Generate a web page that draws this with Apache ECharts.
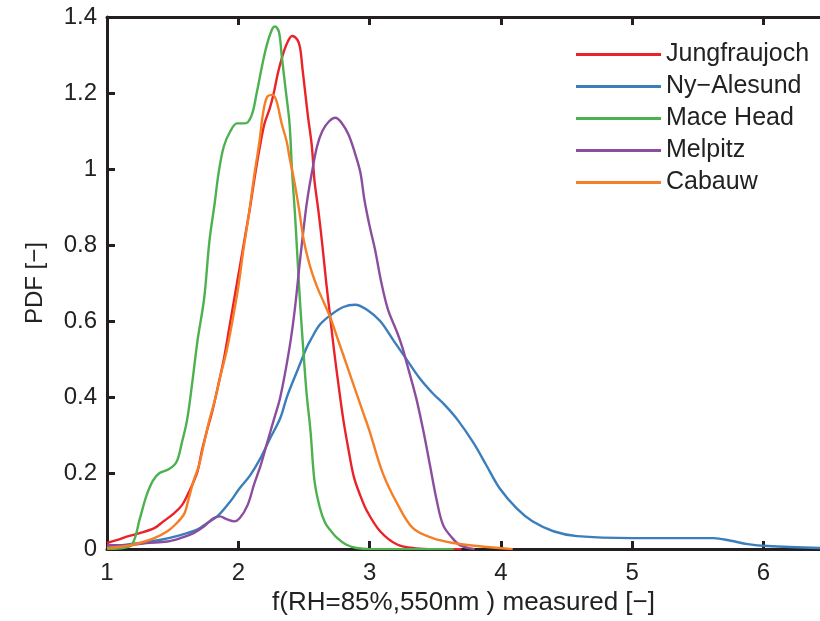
<!DOCTYPE html>
<html>
<head>
<meta charset="utf-8">
<script src="https://cdn.jsdelivr.net/npm/echarts@6/dist/echarts.min.js"></script>
<style>
  html, body { margin: 0; padding: 0; background: #ffffff; }
  #chart { width: 820px; height: 621px; }
</style>
</head>
<body>
<div id="chart"></div>
<script>
// ---- data ----
const seriesNames = ['Jungfraujoch', 'Ny\u2212Alesund', 'Mace Head', 'Melpitz', 'Cabauw'];
const xTicks = [1, 2, 3, 4, 5, 6];
const yTicks = [0, 0.2, 0.4, 0.6, 0.8, 1, 1.2, 1.4];

const jungfraujoch = [[1.0,0.016],[1.08,0.024],[1.15,0.033],[1.25,0.042],[1.36,0.055],[1.43,0.073],[1.51,0.094],[1.57,0.115],[1.61,0.14],[1.65,0.17],[1.69,0.205],[1.72,0.255],[1.76,0.31],[1.80,0.36],[1.84,0.42],[1.89,0.50],[1.93,0.58],[1.97,0.66],[2.01,0.74],[2.05,0.82],[2.09,0.90],[2.13,0.99],[2.17,1.07],[2.20,1.12],[2.24,1.16],[2.27,1.20],[2.30,1.25],[2.33,1.29],[2.37,1.33],[2.41,1.35],[2.45,1.34],[2.47,1.32],[2.49,1.26],[2.51,1.20],[2.53,1.14],[2.56,1.06],[2.58,0.97],[2.61,0.89],[2.64,0.80],[2.67,0.70],[2.70,0.61],[2.73,0.52],[2.76,0.44],[2.80,0.34],[2.84,0.26],[2.88,0.19],[2.93,0.14],[2.98,0.10],[3.08,0.047],[3.21,0.012],[3.35,0.002],[3.5,0],[3.7,0]];

const nyAlesund = [[1.0,0.005],[1.25,0.016],[1.40,0.024],[1.56,0.037],[1.69,0.052],[1.76,0.068],[1.84,0.086],[1.94,0.126],[2.01,0.16],[2.09,0.194],[2.17,0.24],[2.24,0.29],[2.32,0.345],[2.37,0.40],[2.45,0.47],[2.52,0.53],[2.55,0.55],[2.62,0.59],[2.70,0.615],[2.80,0.637],[2.89,0.643],[2.98,0.63],[3.08,0.60],[3.18,0.55],[3.28,0.50],[3.38,0.45],[3.48,0.41],[3.57,0.38],[3.67,0.34],[3.79,0.28],[3.89,0.22],[3.99,0.16],[4.12,0.107],[4.24,0.073],[4.40,0.047],[4.58,0.034],[5.01,0.029],[5.39,0.029],[5.62,0.029],[5.75,0.022],[5.88,0.013],[6.03,0.008],[6.43,0.003]];

const maceHead = [[1.0,0],[1.1,0.002],[1.19,0.012],[1.25,0.08],[1.30,0.14],[1.35,0.18],[1.40,0.20],[1.47,0.21],[1.53,0.23],[1.57,0.28],[1.61,0.34],[1.65,0.44],[1.69,0.55],[1.74,0.66],[1.78,0.81],[1.82,0.91],[1.85,0.99],[1.89,1.06],[1.94,1.10],[1.99,1.12],[2.05,1.12],[2.10,1.14],[2.14,1.20],[2.18,1.27],[2.22,1.33],[2.26,1.37],[2.28,1.375],[2.31,1.36],[2.33,1.30],[2.36,1.21],[2.39,1.12],[2.41,0.99],[2.43,0.89],[2.45,0.77],[2.47,0.65],[2.50,0.50],[2.52,0.41],[2.55,0.31],[2.58,0.18],[2.62,0.11],[2.66,0.07],[2.70,0.05],[2.75,0.03],[2.82,0.012],[2.90,0.003],[3.0,0],[3.3,0],[3.64,0]];

const melpitz = [[1.0,0.01],[1.15,0.01],[1.30,0.016],[1.46,0.02],[1.56,0.029],[1.66,0.042],[1.74,0.06],[1.81,0.081],[1.86,0.086],[1.91,0.079],[1.97,0.073],[2.01,0.081],[2.07,0.115],[2.12,0.17],[2.17,0.22],[2.22,0.28],[2.27,0.34],[2.32,0.40],[2.39,0.53],[2.43,0.63],[2.47,0.76],[2.51,0.88],[2.53,0.93],[2.56,0.99],[2.60,1.06],[2.64,1.10],[2.69,1.125],[2.74,1.135],[2.79,1.12],[2.84,1.09],[2.89,1.04],[2.93,0.99],[2.96,0.92],[3.00,0.85],[3.04,0.79],[3.09,0.70],[3.14,0.63],[3.21,0.57],[3.25,0.53],[3.29,0.48],[3.33,0.43],[3.36,0.39],[3.41,0.31],[3.46,0.22],[3.51,0.13],[3.56,0.063],[3.63,0.029],[3.69,0.01],[3.8,0]];

const cabauw = [[1.0,0.003],[1.15,0.008],[1.25,0.016],[1.36,0.029],[1.46,0.047],[1.53,0.068],[1.59,0.094],[1.62,0.13],[1.66,0.18],[1.70,0.22],[1.74,0.28],[1.78,0.34],[1.82,0.39],[1.86,0.45],[1.91,0.52],[1.95,0.59],[2.00,0.69],[2.04,0.79],[2.08,0.88],[2.12,0.98],[2.16,1.07],[2.19,1.15],[2.22,1.19],[2.26,1.195],[2.29,1.18],[2.33,1.12],[2.37,1.07],[2.39,1.03],[2.42,0.98],[2.46,0.90],[2.50,0.81],[2.55,0.74],[2.60,0.69],[2.65,0.65],[2.70,0.61],[2.75,0.56],[2.80,0.51],[2.85,0.46],[2.90,0.41],[2.95,0.36],[3.00,0.31],[3.10,0.20],[3.21,0.12],[3.33,0.055],[3.48,0.029],[3.64,0.016],[3.82,0.008],[4.09,0]];

const seriesData = [jungfraujoch, nyAlesund, maceHead, melpitz, cabauw];
const colors = ['#ea2329', '#3a7fbb', '#4cb14f', '#8b4e9f', '#f47f26'];

const FONT = '"Liberation Sans", Arial, Helvetica, sans-serif';
const TXT = '#222222';
const AX = '#231f20';

const chart = echarts.init(document.getElementById('chart'), null, { renderer: 'canvas' });

const axisCommon = {
  axisLine: { show: true, onZero: false, lineStyle: { color: AX, width: 3 } },
  axisTick: { show: true, inside: true, length: 8, lineStyle: { color: AX, width: 3 } },
  splitLine: { show: false }
};

chart.setOption({
  animation: false,
  color: colors,
  grid: { left: 107, right: 0, top: 17, bottom: 70, containLabel: false },
  legend: {
    orient: 'vertical',
    left: 571,
    top: 37,
    itemWidth: 85,
    itemHeight: 3,
    itemGap: 7,
    icon: 'rect',
    textStyle: { fontFamily: FONT, fontSize: 25, color: TXT },
    data: seriesNames
  },
  xAxis: [
    Object.assign({
      type: 'value', min: 1, max: 6.43, interval: 1, position: 'bottom',
      name: 'f(RH=85%,550nm ) measured [\u2212]',
      nameLocation: 'middle', nameGap: 40,
      nameTextStyle: { fontFamily: FONT, fontSize: 26, color: TXT },
      axisLabel: { fontFamily: FONT, fontSize: 24, color: TXT, margin: 12, customValues: xTicks }
    }, axisCommon, {
      axisTick: Object.assign({}, axisCommon.axisTick, { customValues: xTicks })
    }),
    Object.assign({
      type: 'value', min: 1, max: 6.43, interval: 1, position: 'top',
      axisLabel: { show: false }
    }, axisCommon, {
      axisTick: Object.assign({}, axisCommon.axisTick, { customValues: xTicks })
    })
  ],
  yAxis: [
    Object.assign({
      type: 'value', min: 0, max: 1.4, interval: 0.2,
      name: 'PDF [\u2212]',
      nameLocation: 'middle', nameGap: 60,
      nameTextStyle: { fontFamily: FONT, fontSize: 24, color: TXT },
      axisLabel: { fontFamily: FONT, fontSize: 24, color: TXT, margin: 10, customValues: yTicks }
    }, axisCommon, {
      axisTick: Object.assign({}, axisCommon.axisTick, { customValues: yTicks })
    })
  ],
  series: seriesNames.map((n, i) => ({
    name: n,
    type: 'line',
    xAxisIndex: 0,
    yAxisIndex: 0,
    data: seriesData[i],
    smooth: 0.35,
    showSymbol: false,
    symbol: 'none',
    lineStyle: { width: 2.4, color: colors[i] },
    itemStyle: { color: colors[i] },
    z: 3 + i
  }))
});
</script>
</body>
</html>
